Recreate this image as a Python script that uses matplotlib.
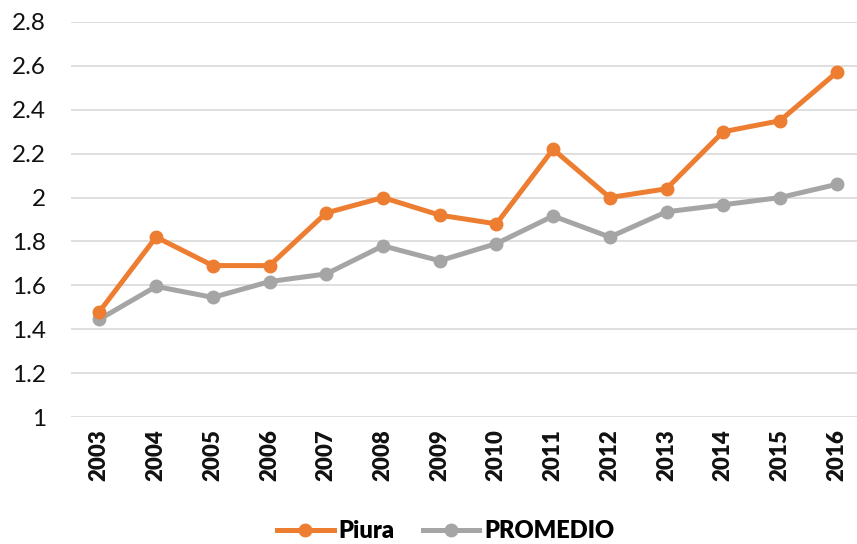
import matplotlib.pyplot as plt

# Data
years = ['2003', '2004', '2005', '2006', '2007', '2008', '2009',
         '2010', '2011', '2012', '2013', '2014', '2015', '2016']
piura = [1.48, 1.82, 1.69, 1.69, 1.93, 2.00, 1.92,
         1.88, 2.22, 2.00, 2.04, 2.30, 2.35, 2.57]
promedio = [1.445, 1.595, 1.545, 1.617, 1.652, 1.78, 1.712,
            1.79, 1.916, 1.82, 1.935, 1.967, 2.00, 2.06]
yticks = [1, 1.2, 1.4, 1.6, 1.8, 2, 2.2, 2.4, 2.6, 2.8]
ylabels = ['1', '1.2', '1.4', '1.6', '1.8', '2', '2.2', '2.4', '2.6', '2.8']

plt.rcParams['font.family'] = ['Lato', 'DejaVu Sans']

fig = plt.figure(figsize=(8.57, 5.44), dpi=100)
ax = fig.add_axes([71/857, 127/544, 794/857, 395/544])

x = range(len(years))
ax.plot(x, promedio, color='#A5A5A5', lw=3.6, marker='o', ms=9,
        label='PROMEDIO', zorder=3)
ax.plot(x, piura, color='#ED7D31', lw=3.6, marker='o', ms=9,
        label='Piura', zorder=4)

ax.set_xlim(-0.5, len(years) - 0.5)
ax.set_ylim(1, 2.8)
ax.set_yticks(yticks)
ax.set_yticklabels(ylabels, fontsize=17.5, color='#111111')
ax.set_xticks(list(x))
ax.set_xticklabels(years, rotation=90, fontsize=16, fontweight='heavy',
                   color='#111111')
ax.tick_params(axis='both', length=0)
ax.tick_params(axis='y', pad=18)
ax.tick_params(axis='x', pad=9)
ax.grid(axis='y', color='#D9D9D9', lw=1.2)
ax.set_axisbelow(True)
for s in ax.spines.values():
    s.set_visible(False)

h, l = ax.get_legend_handles_labels()
leg = fig.legend(h[::-1], l[::-1], loc='lower center', ncol=2,
                 bbox_to_anchor=(0.52, -0.035), frameon=False,
                 handlelength=2.4, columnspacing=1.2, handletextpad=0.2,
                 prop={'size': 17, 'weight': 'heavy'})

fig.savefig('out.png', dpi=100)
